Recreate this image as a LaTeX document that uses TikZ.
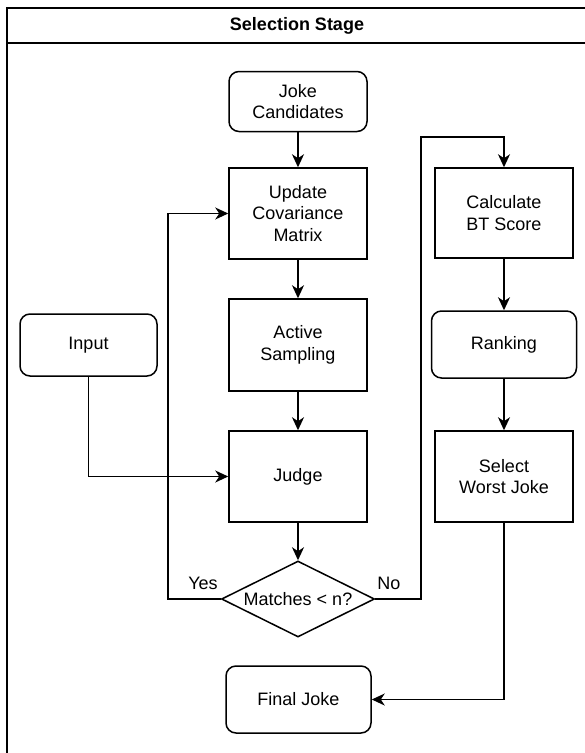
\documentclass[tikz,border=0pt]{standalone}
\usepackage{fontspec}
\setmainfont{Liberation Sans}
\usetikzlibrary{arrows.meta,shapes.geometric}
\begin{document}
\begin{tikzpicture}[x=1pt,y=-1pt,
  every node/.style={font=\fontsize{18}{21.6}\selectfont, text=black},
  box/.style={draw, line width=1.5pt, align=center, inner sep=0pt, fill=white},
  sqbox/.style={box, rectangle},
  rbox/.style={box, rectangle, rounded corners=10pt},
  diabox/.style={box, diamond, aspect=2, minimum width=153pt, minimum height=76pt},
  conn/.style={line width=1.5pt, -{Stealth[length=13pt,width=12pt,inset=4pt]}},
  frameline/.style={line width=1.5pt}
]
\useasboundingbox (0,0) rectangle (585,753);
\clip (0,0) rectangle (585,753);
% frame
\draw[frameline] (7,770) -- (7,8) -- (595,8);
\draw[frameline] (7,43) -- (595,43);
\node[font=\fontsize{18}{21.6}\selectfont\bfseries] (title) at (297,26) {Selection Stage};

% nodes
\node[rbox, minimum width=138pt, minimum height=60pt] (jc) at (298,101.5) {Joke\\Candidates};
\node[sqbox, minimum width=138pt, minimum height=91pt] (upd) at (298,213.5) {Update\\Covariance\\Matrix};
\node[sqbox, minimum width=138pt, minimum height=92pt] (act) at (298,345) {Active\\Sampling};
\node[sqbox, minimum width=138pt, minimum height=91pt] (judge) at (298,476.5) {Judge};
\node[diabox] (dia) at (298,599) {Matches \textless{} n?};
\node[rbox, minimum width=137pt, minimum height=62pt] (inp) at (88.5,345) {Input};
\node[sqbox, minimum width=138pt, minimum height=90pt] (calc) at (504,213) {Calculate\\BT Score};
\node[rbox, minimum width=145pt, minimum height=67pt] (rank) at (504,344.5) {Ranking};
\node[sqbox, minimum width=138pt, minimum height=91pt] (sel) at (504,476.5) {Select\\Worst Joke};
\node[rbox, minimum width=145pt, minimum height=67pt] (final) at (298.5,699.5) {Final Joke};

% labels
\node (yes) at (203,583) {Yes};
\node (no) at (389,583) {No};

% bend points
\coordinate (y1) at (168,599);
\coordinate (n1) at (421,599);
\coordinate (n2) at (421,137);

% connectors
\draw[conn] (jc) -- (upd);
\draw[conn] (upd) -- (act);
\draw[conn] (act) -- (judge);
\draw[conn] (judge) -- (dia);
\draw[conn] (dia.west) -- (y1) |- (upd.west);
\draw[conn] (dia.east) -- (n1) -- (n2) -| (calc.north);
\draw[conn] (inp.south) |- (judge.west);
\draw[conn] (calc) -- (rank);
\draw[conn] (rank) -- (sel);
\draw[conn] (sel.south) |- (final.east);
\end{tikzpicture}
\end{document}
